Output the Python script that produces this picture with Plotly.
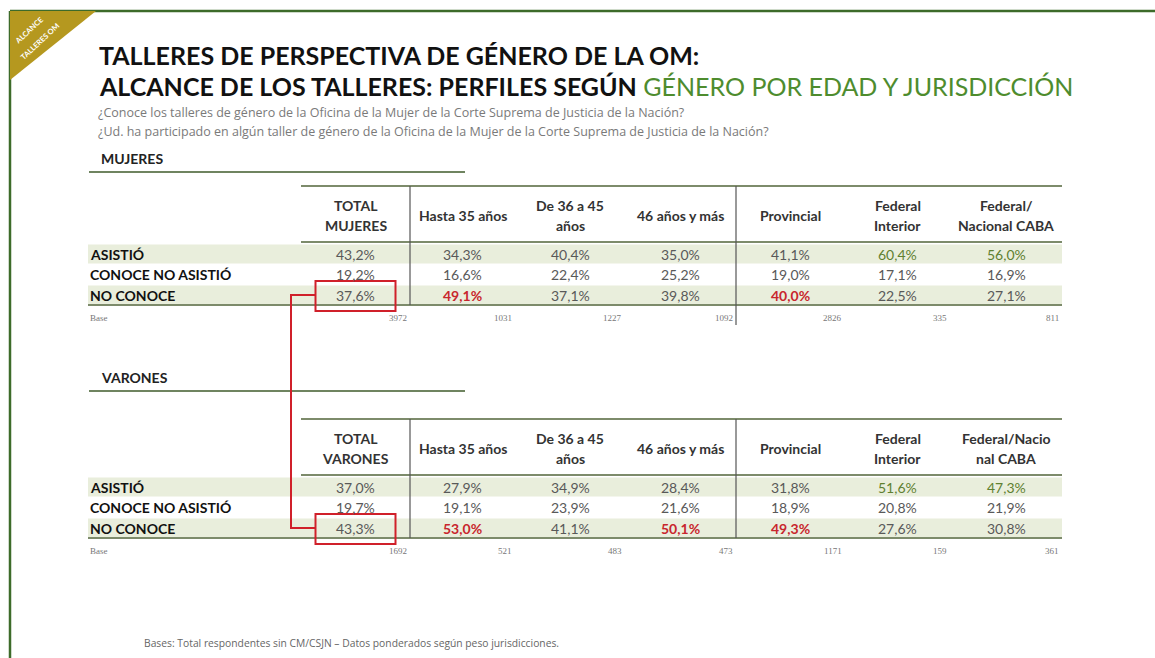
import plotly.graph_objects as go

# ---------------- data ----------------
row_labels = ["ASISTIÓ", "CONOCE NO ASISTIÓ", "NO CONOCE"]

mujeres_headers = ["TOTAL\nMUJERES", "Hasta 35 años", "De 36 a 45\naños", "46 años y más",
                   "Provincial", "Federal\nInterior", "Federal/\nNacional CABA"]
mujeres_asistio = [43.2, 34.3, 40.4, 35.0, 41.1, 60.4, 56.0]
mujeres_conoce_no_asistio = [19.2, 16.6, 22.4, 25.2, 19.0, 17.1, 16.9]
mujeres_no_conoce = [37.6, 49.1, 37.1, 39.8, 40.0, 22.5, 27.1]
mujeres_base = [3972, 1031, 1227, 1092, 2826, 335, 811]

varones_headers = ["TOTAL\nVARONES", "Hasta 35 años", "De 36 a 45\naños", "46 años y más",
                   "Provincial", "Federal\nInterior", "Federal/Nacio\nnal CABA"]
varones_asistio = [37.0, 27.9, 34.9, 28.4, 31.8, 51.6, 47.3]
varones_conoce_no_asistio = [19.7, 19.1, 23.9, 21.6, 18.9, 20.8, 21.9]
varones_no_conoce = [43.3, 53.0, 41.1, 50.1, 49.3, 27.6, 30.8]
varones_base = [1692, 521, 483, 473, 1171, 159, 361]

# highlighted cells (row index, column index)
mujeres_red = [(2, 1), (2, 4)]
mujeres_green = [(0, 5), (0, 6)]
varones_red = [(2, 1), (2, 3), (2, 4)]
varones_green = [(0, 5), (0, 6)]

title_line1 = "TALLERES DE PERSPECTIVA DE GÉNERO DE LA OM:"
title_line2_black = "ALCANCE DE LOS TALLERES: PERFILES SEGÚN"
title_line2_green = "GÉNERO POR EDAD Y JURISDICCIÓN"
question1 = "¿Conoce los talleres de género de la Oficina de la Mujer de la Corte Suprema de Justicia de la Nación?"
question2 = "¿Ud. ha participado en algún taller de género de la Oficina de la Mujer de la Corte Suprema de Justicia de la Nación?"
footer = "Bases: Total respondentes sin CM/CSJN – Datos ponderados según peso jurisdicciones."
corner_lines = ["ALCANCE", "TALLERES OM"]

# ---------------- styling / layout ----------------
W, H = 1155, 658
FONT = "Lato, 'Open Sans', sans-serif"
SMALL_FONT = "'Open Sans', sans-serif"
col_edges = [301, 410, 515, 625, 736, 845, 950, 1062]
label_x = 88
line_color = "#7d8b6b"
band_color = "#e9eedc"
val_color = "#595959"
red = "#c8262d"
olive = "#5f8030"
title_green = "#4e8c2e"
frame_green = "#3d6b2a"
gold = "#b5981f"

shapes = []
ann = []


def line(x0, y0, x1, y1, color=line_color, width=2):
    shapes.append(dict(type="line", x0=x0, y0=y0, x1=x1, y1=y1, xref="x", yref="y",
                       line=dict(color=color, width=width)))


def text(x, y, s, size, color="#000", xanchor="left", bold=False, family=FONT, angle=0):
    ann.append(dict(x=x, y=y, xref="x", yref="y", text=("<b>%s</b>" % s) if bold else s,
                    showarrow=False, xanchor=xanchor, yanchor="middle", textangle=angle,
                    font=dict(size=size, color=color, family=family)))


def fmt(v):
    return ("%.1f" % v).replace(".", ",") + "%"


# frame
line(10, 11, W, 11, frame_green, 2.5)
line(10, 11, 10, H, frame_green, 2.5)
# corner triangle
shapes.append(dict(type="path", path="M 10 11 L 96 11 L 10 80 Z", xref="x", yref="y",
                   fillcolor=gold, line=dict(width=0)))
text(29, 30, corner_lines[0], 7.5, "white", "center", True, angle=-43)
text(40, 41, corner_lines[1], 7.5, "white", "center", True, angle=-43)

# titles
text(97, 55, title_line1, 25, "#111", "left", True)
ann.append(dict(x=97, y=86, xref="x", yref="y", showarrow=False, xanchor="left", yanchor="middle",
                text="<b>%s</b> <span style='color:%s'>%s</span>" % (title_line2_black, title_green, title_line2_green),
                font=dict(size=25, color="#111", family=FONT)))
text(96, 112, question1, 12.5, "#7a7a7a", family=SMALL_FONT)
text(96, 131, question2, 12.5, "#7a7a7a", family=SMALL_FONT)
text(142, 643, footer, 10.3, "#666", family=SMALL_FONT)


def table(top, section, section_y, underline_y, headers, rows, base, reds, greens, vline_ext):
    text(99, section_y, section, 14, "#222", "left", True)
    line(89, underline_y, 465, underline_y, "#6f8460", 2)
    # bands
    for r in (0, 2):
        yc = top + 68 + r * 20.5
        shapes.append(dict(type="rect", x0=label_x, x1=col_edges[-1], y0=yc - 9.5, y1=yc + 9.5,
                           xref="x", yref="y", fillcolor=band_color, line=dict(width=0), layer="below"))
    line(col_edges[0], top, col_edges[-1], top)
    line(col_edges[0], top + 56, col_edges[-1], top + 56)
    line(label_x, top + 119, col_edges[-1], top + 119)
    line(col_edges[1], top, col_edges[1], top + 119, "#555", 1.2)
    line(col_edges[4], top, col_edges[4], top + vline_ext, "#555", 1.2)
    for c, h in enumerate(headers):
        cx = (col_edges[c] + col_edges[c + 1]) / 2
        parts = h.split("\n")
        for k, p in enumerate(parts):
            off = (k - (len(parts) - 1) / 2) * 20
            text(cx, top + 29 + off, p, 14, "#333", "center", True)
    for r, (lab, vals) in enumerate(zip(row_labels, rows)):
        yc = top + 68 + r * 20.5
        text(label_x, yc, lab, 14, "#111", "left", True)
        for c, v in enumerate(vals):
            cx = (col_edges[c] + col_edges[c + 1]) / 2
            if (r, c) in reds:
                text(cx, yc, fmt(v), 14, red, "center", True)
            elif (r, c) in greens:
                text(cx, yc, fmt(v), 14, olive, "center")
            else:
                text(cx, yc, fmt(v), 14, val_color, "center")
    yb = top + 132
    text(label_x, yb, "Base", 9, "#777", "left", family="'Liberation Serif', serif")
    for c, b in enumerate(base):
        text(col_edges[c + 1] - 1, yb, str(b), 9, "#777", "right", family="'Liberation Serif', serif")
    # red highlight box around total "NO CONOCE"
    cx = (col_edges[0] + col_edges[1]) / 2
    yc = top + 68 + 2 * 20.5
    shapes.append(dict(type="rect", x0=cx - 40, x1=cx + 40, y0=yc - 14, y1=yc + 16, xref="x", yref="y",
                       line=dict(color="#d0202a", width=2)))
    return cx - 40, yc


mx, my = table(186, "MUJERES", 158, 172, mujeres_headers,
               [mujeres_asistio, mujeres_conoce_no_asistio, mujeres_no_conoce],
               mujeres_base, mujeres_red, mujeres_green, 139)
vx, vy = table(419, "VARONES", 377, 391, varones_headers,
               [varones_asistio, varones_conoce_no_asistio, varones_no_conoce],
               varones_base, varones_red, varones_green, 119)
# connector
shapes.append(dict(type="path", path="M %f %f L 291 %f L 291 %f L %f %f" % (mx, my, my, vy, vx, vy),
                   xref="x", yref="y", line=dict(color="#d0202a", width=2)))

fig = go.Figure()
fig.update_layout(
    width=W, height=H, margin=dict(l=0, r=0, t=0, b=0),
    paper_bgcolor="white", plot_bgcolor="white",
    xaxis=dict(range=[0, W], visible=False, fixedrange=True),
    yaxis=dict(range=[H, 0], visible=False, fixedrange=True),
    shapes=shapes, annotations=ann, showlegend=False,
)
fig.write_html("out.html", config={"displayModeBar": False},
               post_script="document.body.style.margin='0';")
